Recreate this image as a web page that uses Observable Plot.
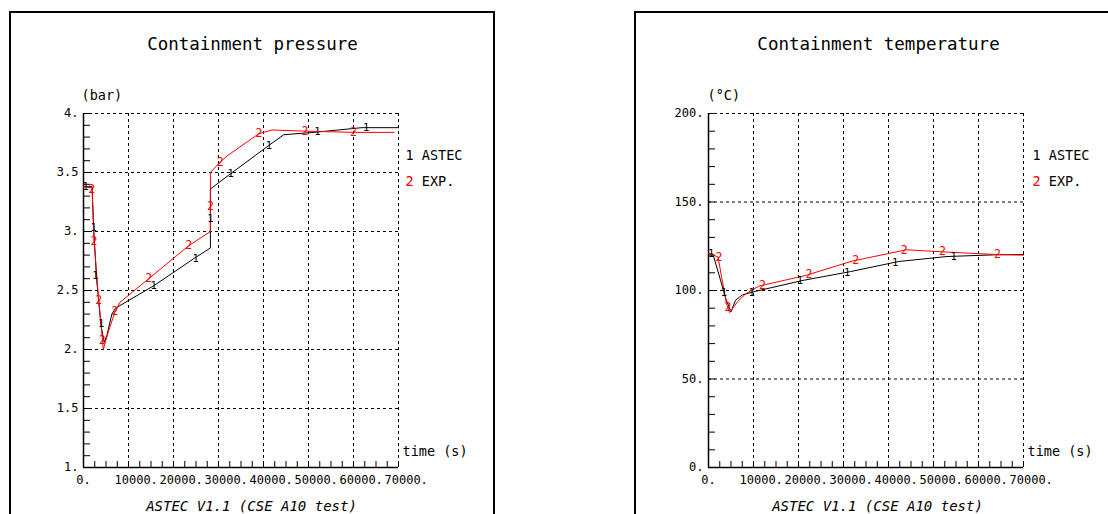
<!DOCTYPE html>
<html>
<head>
<meta charset="utf-8">
<script src="https://cdn.jsdelivr.net/npm/d3@7"></script>
<script src="https://cdn.jsdelivr.net/npm/@observablehq/plot@0.6"></script>
<style>
  html, body { margin: 0; padding: 0; background: #fff; overflow: hidden; }
  #wrap { position: relative; width: 1108px; height: 514px; overflow: hidden; background: #fff; }
  .panel { position: absolute; top: 0; }
  .frame { position: absolute; border: 2px solid #000; pointer-events: none; }
</style>
</head>
<body>
<div id="wrap">
  <div class="panel" id="left" style="left:0px"></div>
  <div class="panel" id="right" style="left:554px"></div>
  <div class="frame" style="left:9px; top:11px; width:482px; height:600px;"></div>
  <div class="frame" style="left:634px; top:11px; width:600px; height:600px;"></div>
</div>
<script>
// ---------- shared axis data ----------
const timeTicks = [0, 10000, 20000, 30000, 40000, 50000, 60000, 70000];
const timeMinor = d3.range(0, 70001, 2500);

// ---------- pressure panel data ----------
const pressureTicks = [1, 1.5, 2, 2.5, 3, 3.5, 4];
const pressureMinor = d3.range(10, 41, 1).map(d => d / 10);

const astecPressureT = [0, 1900, 2300, 2900, 3900, 4600, 5200, 6300, 7100, 15600, 24900, 28200, 28200, 32700, 41200, 44500, 51200, 61900, 70000];
const astecPressureV = [3.38, 3.38, 3.00, 2.60, 2.20, 2.06, 2.12, 2.30, 2.35, 2.54, 2.78, 2.86, 3.36, 3.49, 3.73, 3.82, 3.84, 3.88, 3.88];
const expPressureT = [0, 1900, 2300, 3200, 4100, 4400, 5600, 7000, 8100, 14500, 23400, 28200, 28200, 30400, 31900, 39000, 41900, 49700, 60400, 69000];
const expPressureV = [3.38, 3.37, 2.95, 2.50, 2.13, 2.00, 2.16, 2.32, 2.40, 2.60, 2.88, 3.00, 3.50, 3.59, 3.64, 3.83, 3.86, 3.85, 3.84, 3.84];

const astecPressureMarkT = [500, 2250, 2650, 3900, 15600, 24900, 28200, 32700, 41200, 52000, 62800];
const astecPressureMarkV = [3.38, 3.03, 2.63, 2.22, 2.54, 2.77, 3.11, 3.49, 3.73, 3.845, 3.88];
const expPressureMarkT = [1800, 2300, 3400, 4150, 7000, 14500, 23400, 28200, 30400, 39000, 49200, 60000];
const expPressureMarkV = [3.36, 2.92, 2.42, 2.08, 2.32, 2.60, 2.88, 3.21, 3.59, 3.83, 3.85, 3.84];

// ---------- temperature panel data ----------
const temperatureTicks = [0, 50, 100, 150, 200];
const temperatureMinor = d3.range(0, 201, 10);

const astecTempT = [0, 1000, 3900, 5000, 6000, 7500, 10400, 20800, 31600, 42300, 53000, 64200, 70000];
const astecTempV = [121, 120.5, 95, 88, 94.5, 97.5, 99.5, 105.6, 110.7, 116.4, 119.2, 120.2, 120.3];
const expTempT = [0, 2100, 4000, 4700, 6400, 8200, 11200, 21600, 31900, 44000, 53000, 64200, 70000];
const expTempV = [121, 119, 92.5, 87.5, 93.5, 98, 102.5, 108.5, 116.6, 123, 121.7, 120.3, 120];

const astecTempMarkT = [600, 3400, 9600, 20300, 30800, 41500, 54500];
const astecTempMarkV = [120.8, 99, 98.9, 105.3, 110.3, 116.0, 119.4];
const expTempMarkT = [2300, 4300, 12000, 22300, 32700, 43500, 52000, 64200];
const expTempMarkV = [118.5, 90.5, 103.0, 109, 117.0, 122.7, 121.9, 120.3];

// ---------- texts ----------
const titles = ["Containment pressure", "Containment temperature"];
const units = ["(bar)", "(\u00B0C)"];
const caption = "ASTEC V1.1 (CSE A10 test)";
const xLabel = "time (s)";
const seriesNames = ["ASTEC", "EXP."];
const seriesSymbols = ["1", "2"];
const seriesColors = ["#000000", "#ff0000"];

const zip = (ts, vs) => ts.map((t, i) => ({t, v: vs[i]}));
const fmtNum = d => Number.isInteger(d) ? d + "." : String(d);

function panel({marginLeft, marginRight, yDomain, yTicks, yMinor, astec, exp, astecMarks, expMarks,
                title, unit, titleDx, capDx, legendDx, unitDx}) {
  const W = 554, H = 514, mt = 113, mb = 47;
  const plotW = W - marginLeft - marginRight, plotH = H - mt - mb;
  const xPerPx = 70000 / plotW;
  const yPerPx = (yDomain[1] - yDomain[0]) / plotH;
  const ch = 13.5 * 0.602;
  const legendRows = seriesSymbols.map((s, i) => ({s, name: seriesNames[i], color: seriesColors[i], dy: 42 + 26 * i}));
  return Plot.plot({
    width: W, height: H,
    marginLeft, marginRight, marginTop: mt, marginBottom: mb,
    x: {domain: [0, 70000], axis: null},
    y: {domain: yDomain, axis: null},
    style: {fontFamily: "'DejaVu Sans Mono', monospace", fontSize: "12px", background: "transparent", overflow: "visible", color: "#000"},
    marks: [
      // grid
      Plot.ruleX(timeTicks.slice(1), {x: d => d, stroke: "#000", strokeWidth: 1, strokeDasharray: "3,3"}),
      Plot.ruleY(yTicks.slice(1), {y: d => d, stroke: "#000", strokeWidth: 1, strokeDasharray: "3,3"}),
      // minor ticks
      Plot.ruleX(timeMinor, {x: d => d, y1: yDomain[0], y2: yDomain[0] + 6 * yPerPx, stroke: "#000", strokeWidth: 1}),
      Plot.ruleY(yMinor, {y: d => d, x1: 0, x2: 7 * xPerPx, stroke: "#000", strokeWidth: 1}),
      // axes
      Plot.ruleX([0], {x: d => d, stroke: "#000", strokeWidth: 1.5}),
      Plot.ruleY([yDomain[0]], {y: d => d, stroke: "#000", strokeWidth: 1.5}),
      // tick labels
      Plot.text([0], {x: d => d, text: d => fmtNum(d), frameAnchor: "bottom", lineAnchor: "middle", dy: 13, textAnchor: "middle", fontSize: 12}),
      Plot.text(timeTicks.slice(1), {x: d => d, text: d => fmtNum(d), frameAnchor: "bottom", lineAnchor: "middle", dy: 13, textAnchor: "start", dx: -14, fontSize: 12}),
      Plot.text(yTicks, {y: d => d, text: d => fmtNum(d), frameAnchor: "left", lineAnchor: "middle", textAnchor: "end", dx: -5, fontSize: 12}),
      // series
      Plot.line(astec, {x: "t", y: "v", stroke: seriesColors[0], strokeWidth: 1}),
      Plot.line(exp, {x: "t", y: "v", stroke: seriesColors[1], strokeWidth: 1}),
      Plot.text(astecMarks, {x: "t", y: "v", text: () => seriesSymbols[0], fill: seriesColors[0], fontSize: 10.5}),
      Plot.text(expMarks, {x: "t", y: "v", text: () => seriesSymbols[1], fill: seriesColors[1], fontSize: 11.5}),
      // labels
      Plot.text([title], {text: d => d, frameAnchor: "top", lineAnchor: "middle", dx: titleDx, dy: -69, fontSize: 17.5}),
      Plot.text([unit], {text: d => d, frameAnchor: "top-left", lineAnchor: "middle", textAnchor: "start", dx: unitDx, dy: -18, fontSize: 13.5}),
      Plot.text([xLabel], {text: d => d, frameAnchor: "bottom-right", lineAnchor: "middle", textAnchor: "start", dx: 4, dy: -16, fontSize: 13.5}),
      Plot.text([caption], {text: d => d, frameAnchor: "bottom", lineAnchor: "middle", dx: capDx, dy: 39, fontSize: 14, fontStyle: "italic"}),
      // legend
      ...legendRows.map(r => Plot.text([r], {text: d => d.s, frameAnchor: "top-right", lineAnchor: "middle", textAnchor: "start", dx: legendDx, dy: r.dy, fill: r.color, fontSize: 13.5})),
      ...legendRows.map(r => Plot.text([r], {text: d => d.name, frameAnchor: "top-right", lineAnchor: "middle", textAnchor: "start", dx: legendDx + 2 * ch, dy: r.dy, fill: "#000", fontSize: 13.5}))
    ]
  });
}

const left = panel({
  marginLeft: 83, marginRight: 156, yDomain: [1, 4], yTicks: pressureTicks, yMinor: pressureMinor,
  astec: zip(astecPressureT, astecPressureV), exp: zip(expPressureT, expPressureV),
  astecMarks: zip(astecPressureMarkT, astecPressureMarkV), expMarks: zip(expPressureMarkT, expPressureMarkV),
  title: titles[0], unit: units[0], titleDx: 11.5, capDx: 10.5, legendDx: 7, unitDx: -2
});
const right = panel({
  marginLeft: 154, marginRight: 85, yDomain: [0, 200], yTicks: temperatureTicks, yMinor: temperatureMinor,
  astec: zip(astecTempT, astecTempV), exp: zip(expTempT, expTempV),
  astecMarks: zip(astecTempMarkT, astecTempMarkV), expMarks: zip(expTempMarkT, expTempMarkV),
  title: titles[1], unit: units[1], titleDx: 12.5, capDx: 11.5, legendDx: 9, unitDx: -1
});
document.getElementById("left").appendChild(left);
document.getElementById("right").appendChild(right);
</script>
</body>
</html>
